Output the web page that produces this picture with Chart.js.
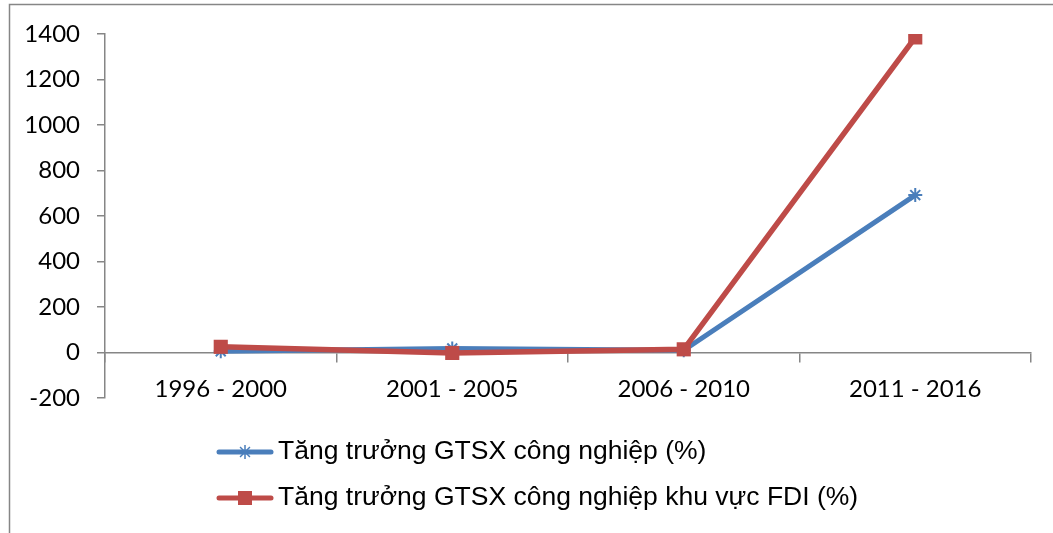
<!DOCTYPE html>
<html>
<head>
<meta charset="utf-8">
<script src="https://cdn.jsdelivr.net/npm/chart.js@4"></script>
<style>
  html, body { margin: 0; padding: 0; background: #fff; }
  #wrap { width: 1053px; height: 533px; position: relative; }
</style>
</head>
<body>
<div id="wrap"><canvas id="chart"></canvas></div>
<script>
const periods = ['1996 - 2000', '2001 - 2005', '2006 - 2010', '2011 - 2016'];
const growthAll = [5, 18, 10, 692];
const growthFDI = [25, -2, 14, 1385];
const seriesNames = ['Tăng trưởng GTSX công nghiệp (%)', 'Tăng trưởng GTSX công nghiệp khu vực FDI (%)'];

const blue = '#4a7ebb';
const red = '#be4b48';
const axisGrey = '#868686';

// frame around the chart + legend drawn under the plot
const extras = {
  id: 'extras',
  beforeDraw(chart) {
    const ctx = chart.ctx;
    ctx.save();
    ctx.strokeStyle = axisGrey;
    ctx.lineWidth = 1.5;
    ctx.strokeRect(9.5, 4.5, 1100, 600);
    ctx.restore();
  },
  afterDraw(chart) {
    const ctx = chart.ctx;
    const items = [
      { y: 452, color: blue, style: 'star', name: seriesNames[0] },
      { y: 498, color: red, style: 'rect', name: seriesNames[1] }
    ];
    ctx.save();
    items.forEach(it => {
      ctx.strokeStyle = it.color;
      ctx.lineWidth = 5;
      ctx.lineCap = 'round';
      ctx.beginPath();
      ctx.moveTo(219, it.y);
      ctx.lineTo(271, it.y);
      ctx.stroke();
      ctx.fillStyle = it.color;
      if (it.style === 'rect') {
        ctx.fillRect(245 - 7, it.y - 7, 14, 14);
      } else {
        ctx.lineWidth = 1.5;
        ctx.lineCap = 'butt';
        Chart.helpers.drawPoint(ctx, { pointStyle: 'star', radius: 7, borderWidth: 1.5, rotation: 0 }, 245, it.y);
      }
      ctx.fillStyle = '#000';
      ctx.font = '26.5px "Liberation Sans", Arial, sans-serif';
      ctx.textBaseline = 'middle';
      ctx.textAlign = 'left';
      ctx.fillText(it.name, 278, it.y);
    });
    ctx.restore();
  }
};

new Chart(document.getElementById('chart'), {
  type: 'line',
  data: {
    labels: periods,
    datasets: [{
      label: seriesNames[0],
      data: growthAll,
      borderColor: blue,
      backgroundColor: blue,
      borderWidth: 5,
      pointStyle: 'star',
      pointRadius: 7,
      pointBorderWidth: 2,
      pointHoverRadius: 7,
      order: 1
    }, {
      label: seriesNames[1],
      data: growthFDI,
      borderColor: red,
      backgroundColor: red,
      borderWidth: 5.5,
      pointStyle: 'rect',
      pointRadius: 10,
      pointBorderWidth: 0,
      pointHoverRadius: 10,
      order: 0
    }]
  },
  options: {
    responsive: true,
    maintainAspectRatio: false,
    animation: false,
    layout: { padding: { left: 10, top: 34, right: 22, bottom: 135 } },
    plugins: {
      legend: { display: false },
      tooltip: { enabled: false }
    },
    scales: {
      x: {
        position: { y: 0 },
        offset: true,
        border: { color: axisGrey, width: 1.5 },
        grid: { drawOnChartArea: false, drawTicks: true, tickLength: 9, color: axisGrey, lineWidth: 1.5, offset: true },
        ticks: { color: '#000', padding: 13, font: { family: 'Lato', size: 24 } }
      },
      y: {
        min: -200,
        max: 1400,
        border: { color: axisGrey, width: 1.5 },
        grid: { drawOnChartArea: false, drawTicks: true, tickLength: 8, color: axisGrey, lineWidth: 1.5 },
        ticks: {
          stepSize: 200, color: '#000', padding: 17, font: { family: 'Lato', size: 24 },
          callback: v => String(v)
        },
        afterFit(scale) { scale.width = 95; }
      }
    }
  },
  plugins: [extras]
});
</script>
</body>
</html>
